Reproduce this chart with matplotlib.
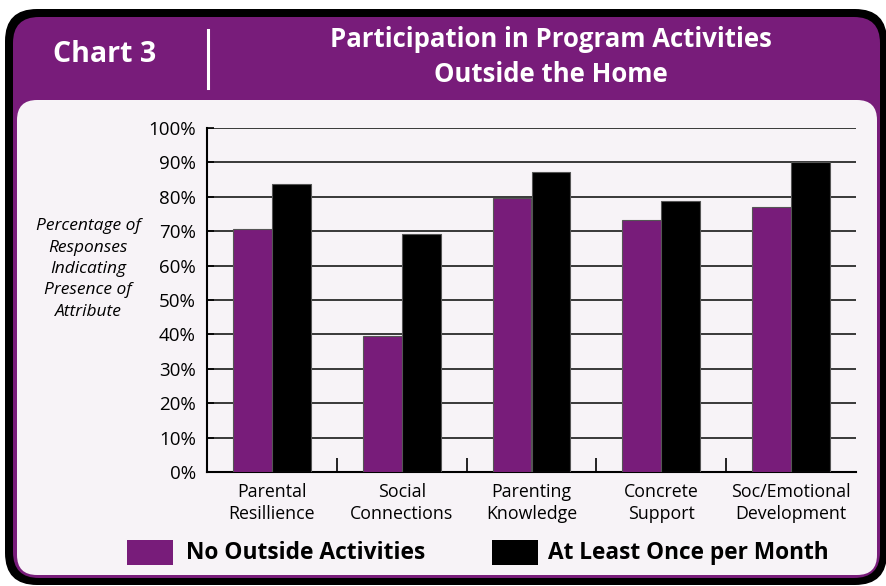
import numpy as np
import matplotlib
matplotlib.use("Agg")
import matplotlib.pyplot as plt
from matplotlib.patches import FancyBboxPatch, Rectangle
from matplotlib.lines import Line2D

categories = ["Parental\nResillience", "Social\nConnections", "Parenting\nKnowledge",
              "Concrete\nSupport", "Soc/Emotional\nDevelopment"]
no_outside = [70.6, 39.5, 79.7, 73.3, 77.0]
once_month = [83.7, 69.2, 87.2, 78.8, 90.1]
series_names = ["No Outside Activities", "At Least Once per Month"]
y_ticks = list(range(0, 101, 10))

PURPLE = "#781c7a"
PANEL = "#f7f3f7"
FONT = ["Open Sans", "DejaVu Sans"]

plt.rcParams["font.family"] = FONT

W, H = 887, 586
fig = plt.figure(figsize=(W / 100, H / 100), dpi=100)
fig.patch.set_facecolor("white")


def px_box(x0, y0, x1, y1, **kw):
    # box given in pixel coords (top-left origin), drawn in inches
    p = FancyBboxPatch((x0 / 100, (H - y1) / 100), (x1 - x0) / 100, (y1 - y0) / 100,
                       transform=fig.dpi_scale_trans, **kw)
    fig.patches.append(p)
    return p


# Frame: black border, purple header, light panel
px_box(5, 9, 887, 585, boxstyle="round,pad=0,rounding_size=0.32", fc="black", ec="none")
px_box(13, 17, 880, 578, boxstyle="round,pad=0,rounding_size=0.26", fc=PURPLE, ec="none")
px_box(17, 100, 877, 575, boxstyle="round,pad=0,rounding_size=0.2", fc=PANEL, ec="none")

# Header
fig.text(105 / W, 1 - 55 / H, "Chart 3", color="white", fontsize=20.5, fontweight="bold",
         ha="center", va="center")
fig.lines.append(Line2D([208 / W, 208 / W], [1 - 30 / H, 1 - 88 / H], color="white",
                        lw=2.2, transform=fig.transFigure))
fig.text(551 / W, 1 - 57 / H, "Participation in Program Activities\nOutside the Home",
         color="white", fontsize=18.5, fontweight="bold", ha="center", va="center",
         linespacing=1.4)

# Chart
ax = fig.add_axes([207 / W, 1 - 472 / H, 649 / W, 344 / H])
ax.set_zorder(5)
ax.set_facecolor("none")
x = np.arange(len(categories))
w = 0.3
ax.bar(x - w / 2, no_outside, w, color=PURPLE, edgecolor="#555555", lw=0.8, zorder=3,
       label=series_names[0])
ax.bar(x + w / 2, once_month, w, color="black", edgecolor="#555555", lw=0.8, zorder=3,
       label=series_names[1])

ax.set_xlim(-0.5, len(categories) - 0.5)
ax.set_ylim(0, 100)
ax.set_yticks(y_ticks)
ax.set_yticklabels([f"{v}%" for v in y_ticks], fontsize=13.5)
ax.yaxis.grid(True, color="#2a2a2a", lw=1.3, zorder=0)
ax.set_axisbelow(True)
ax.set_xticks(x)
ax.set_xticklabels(categories, fontsize=12.8, linespacing=1.3)
ax.set_xticks(np.arange(0.5, len(categories) - 0.5), minor=True)
ax.tick_params(axis="x", which="major", length=0, pad=8)
ax.tick_params(axis="x", which="minor", direction="in", length=10, width=1.2)
ax.tick_params(axis="y", direction="in", length=5, width=1.2, pad=8)
for s in ["top", "right"]:
    ax.spines[s].set_visible(False)
for s in ["left", "bottom"]:
    ax.spines[s].set_linewidth(1.5)
    ax.spines[s].set_color("black")

fig.text(88 / W, 1 - 269 / H,
         "Percentage of\nResponses\nIndicating\nPresence of\nAttribute",
         fontsize=12.5, style="italic", ha="center", va="center", linespacing=1.45)

# Legend
for (lx, tx), name, col, fs in zip([(127, 186), (492, 548)], series_names,
                                   [PURPLE, "black"], [16.4, 16.3]):
    fig.patches.append(Rectangle((lx / W, 1 - 565 / H), 46 / W, 25 / H, fc=col, ec="none",
                                 transform=fig.transFigure))
    fig.text(tx / W, 1 - 553 / H, name, fontsize=fs, fontweight="bold", ha="left",
             va="center")

fig.savefig("out.png", dpi=100)
